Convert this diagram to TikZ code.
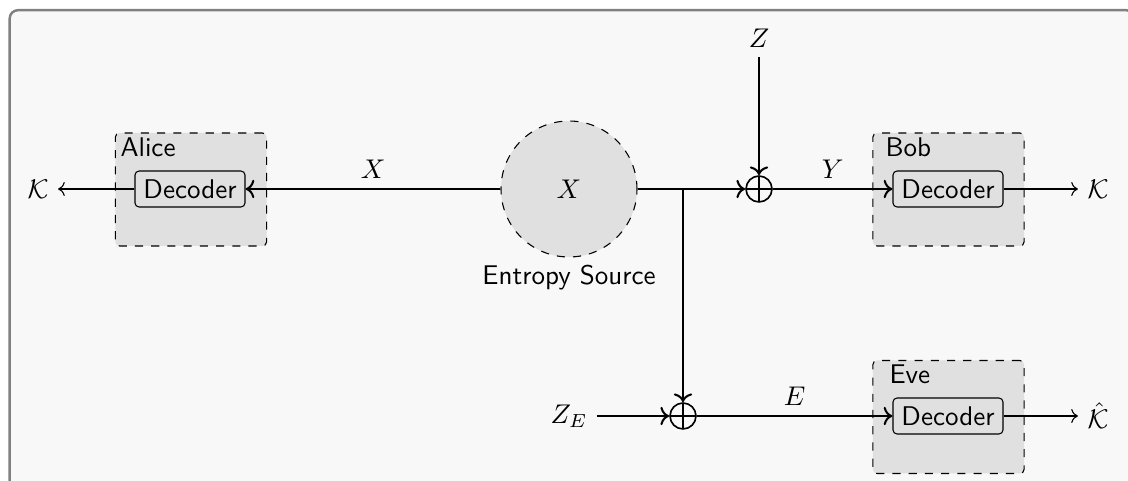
\documentclass[tikz,border=0pt]{standalone}
\usepackage{amsmath}
\usetikzlibrary{arrows.meta}
\renewcommand{\familydefault}{\sfdefault}
\definecolor{framebg}{HTML}{F8F8F8}
\definecolor{frameline}{HTML}{808080}
\definecolor{boxfill}{HTML}{E0E0E0}
\tikzset{
  party/.style={draw, dashed, fill=boxfill, rounded corners=1.5pt, minimum width=55.9pt, minimum height=41.8pt, inner sep=0pt},
  decoder/.style={draw, fill=boxfill, rounded corners=1.5pt, minimum width=40.7pt, minimum height=13.3pt, inner sep=0pt},
  xorop/.style={draw, circle, minimum size=9.6pt, inner sep=0pt, line width=0.6pt,
    path picture={\draw[line width=0.6pt] (path picture bounding box.north) -- (path picture bounding box.south)
      (path picture bounding box.west) -- (path picture bounding box.east);}},
  source/.style={draw, dashed, circle, fill=boxfill, minimum size=50.3pt, inner sep=0pt},
  mainarrow/.style={line width=0.75pt, ->},
  outarrow/.style={line width=0.4pt, ->},
  plabel/.style={anchor=base west, inner sep=0pt},
}
\begin{document}
\begin{tikzpicture}[x=0.013cm, y=-0.013cm]
\useasboundingbox (0,0) rectangle (1128,481);
\node[draw=frameline, fill=framebg, line width=0.9pt, rounded corners=3pt, minimum width=416pt, minimum height=180pt, anchor=north west, inner sep=0pt] (frame) at (8.5,9) {};
% parties
\node[party] (alice) at (191,189.5) {};
\node[party] (bob) at (948.5,189.5) {};
\node[party] (eve) at (948.5,417) {};
\node[plabel] (alicel) at (120,157) {Alice};
\node[plabel] (bobl) at (885,157) {Bob};
\node[plabel] (evel) at (889,384) {Eve};
\node[decoder] (adec) at (190,189) {Decoder};
\node[decoder] (bdec) at (948,189) {Decoder};
\node[decoder] (edec) at (948,416) {Decoder};
% source
\node[source] (src) at (569,189) {$X$};
\node (srcl) at (569,278) {Entropy Source};
% xors
\node[xorop] (xu) at (759,189) {};
\node[xorop] (xl) at (683,416) {};
\coordinate (br) at (683,189);
% terminals
\node (z) at (759,38) {$Z$};
\node (ze) at (569,416) {$Z_E$};
\node (ka) at (38,189) {$\mathcal{K}$};
\node (kb) at (1098,189) {$\mathcal{K}$};
\node (ke) at (1098,416) {$\hat{\mathcal{K}}$};
% connectors
\draw[mainarrow] (src.west) -- node[above] {$X$} (adec.east);
\draw[mainarrow] (src.east) -- (xu.west);
\draw[mainarrow] (z.south) -- (xu.north);
\draw[mainarrow] (xu.east) -- node[above] {$Y$} (bdec.west);
\draw[mainarrow] (br) -- (xl.north);
\draw[mainarrow] (ze.east) -- (xl.west);
\draw[mainarrow] (xl.east) -- node[above] {$E$} (edec.west);
\draw[outarrow] (adec.west) -- (ka.east);
\draw[outarrow] (bdec.east) -- (kb.west);
\draw[outarrow] (edec.east) -- (edec.east -| ke.west);
\end{tikzpicture}
\end{document}
